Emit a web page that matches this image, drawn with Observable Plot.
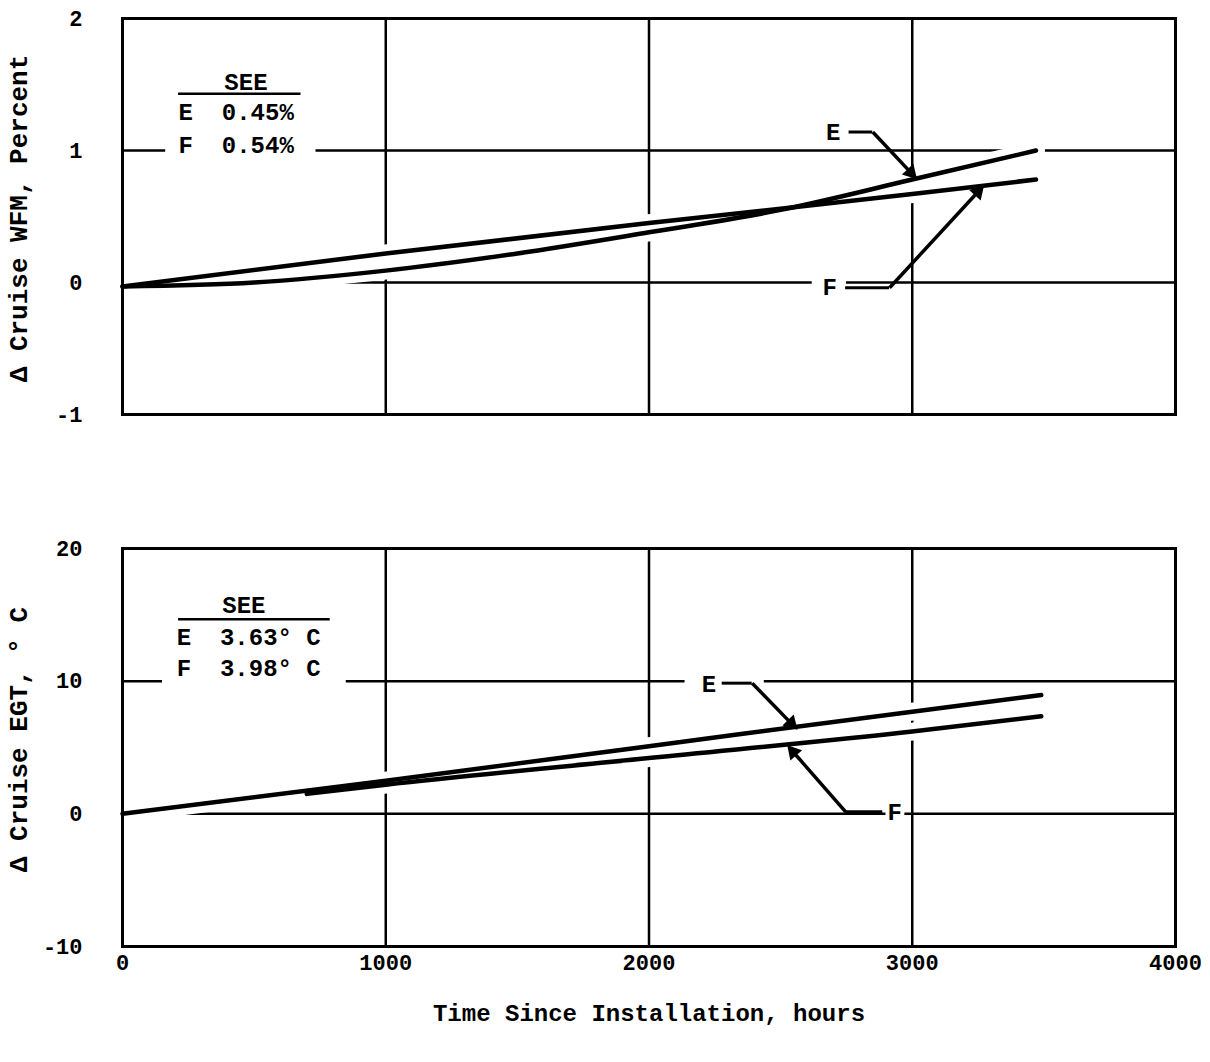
<!DOCTYPE html>
<html><head><meta charset="utf-8">
<script src="https://cdn.jsdelivr.net/npm/d3@7"></script>
<script src="https://cdn.jsdelivr.net/npm/@observablehq/plot@0.6"></script>
<style>
body{margin:0;background:#fff;}
#chart svg{display:block;}
</style></head><body><div id="chart"></div>
<script>
// ---- data ----
const hoursWfmE = [0, 500, 1000, 1500, 2000, 2500, 3000, 3470];
const wfmE      = [-0.03, 0.0, 0.09, 0.22, 0.38, 0.55, 0.78, 1.0];
const hoursWfmF = [0, 1000, 2000, 3000, 3470];
const wfmF      = [-0.03, 0.22, 0.45, 0.67, 0.78];
const hoursEgtE = [0, 1000, 2000, 3000, 3490];
const egtE      = [0, 2.5, 5.1, 7.7, 8.95];
const hoursEgtF = [700, 1000, 2000, 3000, 3490];
const egtF      = [1.5, 2.2, 4.2, 6.2, 7.35];
const seriesNames = ["E", "F"];
const seeWfm = ["0.45%", "0.54%"];
const seeEgt = ["3.63° C", "3.98° C"];
const xTicks = [0, 1000, 2000, 3000, 4000];
const yTicksWfm = [-1, 0, 1, 2];
const yTicksEgt = [-10, 0, 10, 20];
const xTitle = "Time Since Installation, hours";
const yTitleWfm = "Δ Cruise WFM, Percent";
const yTitleEgt = "Δ Cruise EGT, ° C";

function rows(hE, vE, hF, vF) {
  return [
    ...hE.map((h, i) => ({series: "E", hours: h, value: vE[i]})),
    ...hF.map((h, i) => ({series: "F", hours: h, value: vF[i]}))
  ];
}

const FONT = "'Liberation Mono','DejaVu Sans Mono',monospace";
const black = "#000";
const W = 1210, ML = 122, MR = 35;

// arrow with a filled triangular head
function arrowMarks(x1, y1, x2, y2, sx, sy) {
  const dxp = (x2 - x1) * sx, dyp = -(y2 - y1) * sy;
  const len = Math.hypot(dxp, dyp);
  const ux = dxp / len, uy = dyp / len;
  const ang = Math.atan2(ux, -uy) * 180 / Math.PI;
  return [
    Plot.link([0], {x1, y1, x2, y2, stroke: black, strokeWidth: 3.5}),
    Plot.dot([0], {x: x2, y: y2, dx: -ux * 6, dy: -uy * 6, symbol: "triangle2", r: 7.5, fill: black, stroke: null, rotate: ang})
  ];
}

function panel(o) {
  const data = rows(o.hE, o.vE, o.hF, o.vF);
  const L = o.layout;
  const plotH = o.height - o.mt - o.mb;
  const sx = (W - ML - MR) / 4000;
  const sy = plotH / (o.domain[1] - o.domain[0]);
  const marks = [
    Plot.gridX([1000, 2000, 3000], {stroke: black, strokeOpacity: 1, strokeWidth: 2.5}),
    Plot.gridY(o.grid, {stroke: black, strokeOpacity: 1, strokeWidth: 2.5}),
    // gaps in the grid behind labels
    ...L.masks.map(m => Plot.ruleY([m[0]], {x1: m[1], x2: m[2], stroke: "#fff", strokeWidth: 8})),
    Plot.line(data, {x: "hours", y: "value", z: "series", stroke: "#fff", strokeWidth: 18, curve: "monotone-x"}),
    Plot.frame({stroke: black, strokeWidth: 3}),
    Plot.line(data, {x: "hours", y: "value", z: "series", stroke: black, strokeWidth: 4.5, curve: "monotone-x", strokeLinecap: "round"}),
    Plot.axisY(o.yTicks, {tickSize: 0, tickPadding: 40, tickFormat: d => String(d), label: null, fontSize: 22}),
    Plot.text([o.yTitle], {text: d => d, frameAnchor: "left", textAnchor: "middle", rotate: -90, dx: -104, dy: L.yTitleDy, fontSize: 26, fill: black}),
    // SEE legend
    Plot.text(["SEE"], {text: d => d, x: L.seeX, y: L.seeY, fontSize: 24, fill: black}),
    Plot.ruleY([L.ulY], {x1: L.ulX1, x2: L.ulX2, stroke: black, strokeWidth: 2.5}),
    Plot.text(seriesNames.map((s, i) => s + "  " + o.see[i]), {
      text: d => d, x: L.rowX, y: (d, i) => L.rowY[i], textAnchor: "start", fontSize: 24, fill: black
    }),
    // annotations
    Plot.ruleY([L.eLeadY], {x1: L.eLeadX1, x2: L.eLeadX2, stroke: black, strokeWidth: 3}),
    ...arrowMarks(L.eLeadX2, L.eLeadY, L.eTip[0], L.eTip[1], sx, sy),
    Plot.text(["E"], {text: d => d, x: L.eLab[0], y: L.eLab[1], fontSize: 24, fill: black, stroke: "#fff", strokeWidth: 8}),
    Plot.ruleY([L.fLeadY], {x1: L.fLeadX1, x2: L.fLeadX2, stroke: black, strokeWidth: 3}),
    ...arrowMarks(L.fFrom, L.fLeadY, L.fTip[0], L.fTip[1], sx, sy),
    Plot.text(["F"], {text: d => d, x: L.fLab[0], y: L.fLab[1], fontSize: 24, fill: black, stroke: "#fff", strokeWidth: 8})
  ];
  if (o.xAxis) {
    marks.push(Plot.axisX(xTicks, {tickSize: 0, tickPadding: 8, tickFormat: d => String(d), label: null, fontSize: 22}));
    marks.push(Plot.text([xTitle], {text: d => d, frameAnchor: "bottom", dy: 74, fontSize: 24, fill: black}));
  }
  return Plot.plot({
    width: W, height: o.height,
    marginTop: o.mt, marginBottom: o.mb, marginLeft: ML, marginRight: MR,
    x: {domain: [0, 4000], axis: null},
    y: {domain: o.domain, axis: null},
    style: {fontFamily: FONT, fontWeight: "bold", fontSize: "22px", color: black, background: "#fff", overflow: "visible"},
    marks
  });
}

const topPanel = panel({
  hE: hoursWfmE, vE: wfmE, hF: hoursWfmF, vF: wfmF,
  domain: [-1, 2], grid: [0, 1], yTicks: yTicksWfm, yTitle: yTitleWfm, see: seeWfm,
  height: 440, mt: 18, mb: 26, xAxis: false,
  layout: {
    yTitleDy: 2,
    masks: [[1, 164, 735], [0, 2620, 2750]],
    seeX: 469, seeY: 1.52, ulY: 1.43, ulX1: 213, ulX2: 678, rowX: 213, rowY: [1.29, 1.04],
    eLab: [2700, 1.14], eLeadY: 1.14, eLeadX1: 2760, eLeadX2: 2850, eTip: [3010, 0.80],
    fLab: [2686, -0.04], fLeadY: -0.04, fLeadX1: 2747, fLeadX2: 2914, fFrom: 2914, fTip: [3265, 0.72]
  }
});
const bottomPanel = panel({
  hE: hoursEgtE, vE: egtE, hF: hoursEgtF, vF: egtF,
  domain: [-10, 20], grid: [0, 10], yTicks: yTicksEgt, yTitle: yTitleEgt, see: seeEgt,
  height: 622, mt: 108, mb: 116, xAxis: true,
  layout: {
    yTitleDy: -8,
    masks: [[10, 152, 850], [10, 2137, 2438]],
    seeX: 461, seeY: 15.7, ulY: 14.66, ulX1: 213, ulX2: 789, rowX: 206, rowY: [13.3, 11.0],
    eLab: [2228, 9.8], eLeadY: 9.85, eLeadX1: 2278, eLeadX2: 2392, eTip: [2556, 6.5],
    fLab: [2933, 0.1], fLeadY: 0.15, fLeadX1: 2747, fLeadX2: 2888, fFrom: 2747, fTip: [2533, 5.0]
  }
});
const el = document.getElementById("chart");
el.appendChild(topPanel);
el.appendChild(bottomPanel);
</script></body></html>
